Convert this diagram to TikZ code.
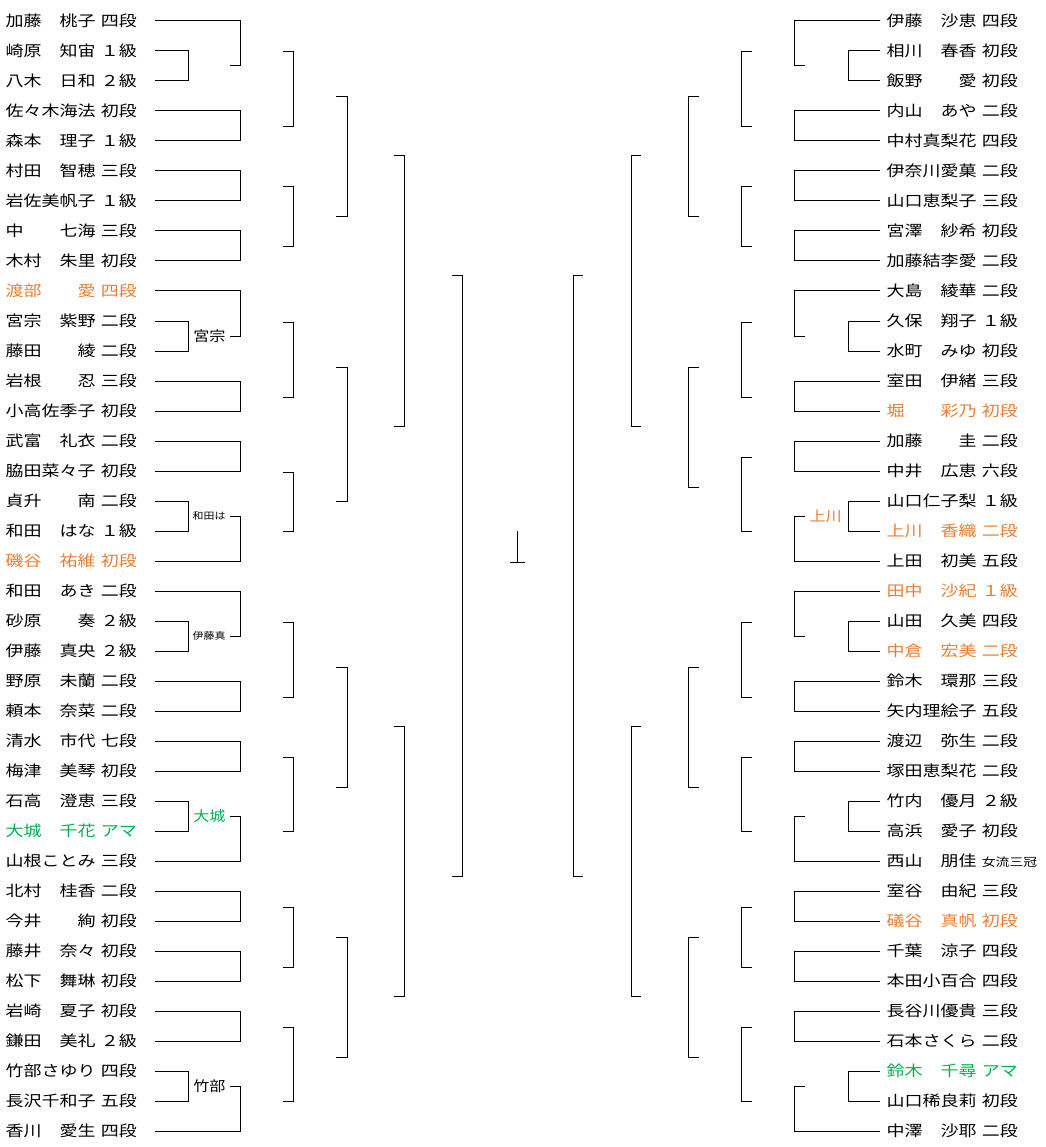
\documentclass[tikz,border=0pt]{standalone}
\usepackage{fontspec}
\usepackage{graphicx}
\usetikzlibrary{calc}
\newfontfamily\jp{Noto Sans CJK JP}
\definecolor{kachi}{RGB}{235,125,49}
\definecolor{ama}{RGB}{0,176,80}
\newcommand{\plname}[2]{\scalebox{1.2}[1]{#1\hspace{4.5pt}#2}}
\tikzset{
  plr/.style={anchor=west, inner sep=0pt, font=\jp\fontsize{15}{15}\selectfont},
  lbl/.style={inner sep=0pt, font=\jp\fontsize{14}{14}\selectfont},
  lbls/.style={inner sep=0pt, font=\jp\fontsize{9.5}{9.5}\selectfont},
}
\begin{document}
\begin{tikzpicture}[x=1pt, y=-1pt, line width=1pt]
    \useasboundingbox (0,0) rectangle (1045,1147);

    % 左ブロックの棋士
    \foreach \i/\n/\r/\c in {0/加藤　桃子/四段/black, 1/崎原　知宙/１級/black, 2/八木　日和/２級/black,
        3/佐々木海法/初段/black, 4/森本　理子/１級/black, 5/村田　智穂/三段/black, 6/岩佐美帆子/１級/black,
        7/中　　七海/三段/black, 8/木村　朱里/初段/black, 9/渡部　　愛/四段/kachi, 10/宮宗　紫野/二段/black,
        11/藤田　　綾/二段/black, 12/岩根　　忍/三段/black, 13/小高佐季子/初段/black, 14/武富　礼衣/二段/black,
        15/脇田菜々子/初段/black, 16/貞升　　南/二段/black, 17/和田　はな/１級/black, 18/磯谷　祐維/初段/kachi,
        19/和田　あき/二段/black, 20/砂原　　奏/２級/black, 21/伊藤　真央/２級/black, 22/野原　未蘭/二段/black,
        23/頼本　奈菜/二段/black, 24/清水　市代/七段/black, 25/梅津　美琴/初段/black, 26/石高　澄恵/三段/black,
        27/大城　千花/アマ/ama, 28/山根ことみ/三段/black, 29/北村　桂香/二段/black, 30/今井　　絢/初段/black,
        31/藤井　奈々/初段/black, 32/松下　舞琳/初段/black, 33/岩崎　夏子/初段/black, 34/鎌田　美礼/２級/black,
        35/竹部さゆり/四段/black, 36/長沢千和子/五段/black, 37/香川　愛生/四段/black}
        \node[plr, text=\c] (l\i) at (5,{21+30*\i}) {\plname{\n}{\r}};

    % 右ブロックの棋士
    \foreach \i/\n/\r/\c in {0/伊藤　沙恵/四段/black, 1/相川　春香/初段/black, 2/飯野　　愛/初段/black,
        3/内山　あや/二段/black, 4/中村真梨花/四段/black, 5/伊奈川愛菓/二段/black, 6/山口恵梨子/三段/black,
        7/宮澤　紗希/初段/black, 8/加藤結李愛/二段/black, 9/大島　綾華/二段/black, 10/久保　翔子/１級/black,
        11/水町　みゆ/初段/black, 12/室田　伊緒/三段/black, 13/堀　　彩乃/初段/kachi, 14/加藤　　圭/二段/black,
        15/中井　広恵/六段/black, 16/山口仁子梨/１級/black, 17/上川　香織/二段/kachi, 18/上田　初美/五段/black,
        19/田中　沙紀/１級/kachi, 20/山田　久美/四段/black, 21/中倉　宏美/二段/kachi, 22/鈴木　環那/三段/black,
        23/矢内理絵子/五段/black, 24/渡辺　弥生/二段/black, 25/塚田恵梨花/二段/black, 26/竹内　優月/２級/black,
        27/高浜　愛子/初段/black, 29/室谷　由紀/三段/black, 30/礒谷　真帆/初段/kachi,
        31/千葉　涼子/四段/black, 32/本田小百合/四段/black, 33/長谷川優貴/三段/black, 34/石本さくら/二段/black,
        35/鈴木　千尋/アマ/ama, 36/山口稀良莉/初段/black, 37/中澤　沙耶/二段/black}
        \node[plr, text=\c] (r\i) at (886,{21+30*\i}) {\plname{\n}{\r}};
    \node[plr] (r28) at (886,861) {\plname{西山　朋佳}{{\fontsize{11.5}{11.5}\selectfont 女流三冠}}};

    % 1回戦の線の位置
    \coordinate (l-txt) at (155,0);  \coordinate (r-txt) at (880,0);
    \coordinate (l-r1) at (240,0);   \coordinate (r-r1) at (794,0);
    \coordinate (l-pre) at (188,0);  \coordinate (r-pre) at (848,0);
    \coordinate (l-stub) at (230,0); \coordinate (r-stub) at (805,0);

    \foreach \s in {l,r} {
        % 予選の勝者の位置
        \foreach \b/\c in {1/2,10/11,16/17,20/21,26/27,35/36}
            \coordinate (\s-w\b) at ($(\s\b)!.5!(\s\c)$);
        % 1回戦
        \foreach \a/\b in {3/4,5/6,7/8,12/13,14/15,22/23,24/25,29/30,31/32,33/34}
            \draw (\s\a -| \s-txt) -| (\s-r1 |- \s\b) -- (\s\b -| \s-txt);
        % 予選
        \foreach \b/\c in {1/2,10/11,16/17,20/21,26/27,35/36}
            \draw (\s\b -| \s-txt) -| (\s-pre |- \s\c) -- (\s\c -| \s-txt);
        % 予選の勝者が下
        \foreach \a/\b in {0/1,9/10,19/20}
            \draw (\s\a -| \s-txt) -| (\s-r1 |- \s-w\b) -- (\s-stub |- \s-w\b);
        % 予選の勝者が上
        \foreach \a/\b in {18/16,28/26,37/35}
            \draw (\s-stub |- \s-w\b) -| (\s-r1 |- \s\a) -- (\s\a -| \s-txt);
    }

    % 予選の勝者
    \node[lbl, anchor=east, xshift=-4pt] (lw10) at (l-stub |- l-w10) {\scalebox{1.15}[1]{宮宗}};
    \node[lbls, anchor=east, xshift=-4pt] (lw16) at (l-stub |- l-w16) {\scalebox{1.15}[1]{和田は}};
    \node[lbls, anchor=east, xshift=-4pt] (lw20) at (l-stub |- l-w20) {\scalebox{1.15}[1]{伊藤真}};
    \node[lbl, anchor=east, xshift=-4pt, text=ama] (lw26) at (l-stub |- l-w26) {\scalebox{1.15}[1]{大城}};
    \node[lbl, anchor=east, xshift=-4pt] (lw35) at (l-stub |- l-w35) {\scalebox{1.15}[1]{竹部}};
    \node[lbl, anchor=west, xshift=4pt, text=kachi] (rw16) at (r-stub |- r-w16) {\scalebox{1.15}[1]{上川}};

    % 2回戦
    \foreach \a/\b in {52/127,187/247,322/397,472/531,622/697,757/831,907/967,1027/1101}
        \draw (283,\a) -- (293,\a) -- (293,\b) -- (283,\b);
    \foreach \a/\b in {52/127,187/247,322/397,457/531,622/697,757/831,907/967,1027/1101}
        \draw (752,\a) -- (741,\a) -- (741,\b) -- (752,\b);

    % 3回戦
    \foreach \a/\b in {97/217,367/501,667/787,937/1057}
        \draw (336,\a) -- (347,\a) -- (347,\b) -- (336,\b);
    \foreach \a/\b in {97/217,367/487,667/787,937/1057}
        \draw (699,\a) -- (688,\a) -- (688,\b) -- (699,\b);

    % 準々決勝
    \foreach \a/\b in {156/426,726/996} {
        \draw (394,\a) -- (404,\a) -- (404,\b) -- (394,\b);
        \draw (641,\a) -- (631,\a) -- (631,\b) -- (641,\b);
    }

    % 準決勝
    \draw (452,276) -- (462,276) -- (462,876) -- (452,876);
    \draw (583,276) -- (573,276) -- (573,876) -- (583,876);

    % 決勝
    \draw (517,531) -- (517,562);
    \draw (510,562) -- (525,562);
\end{tikzpicture}
\end{document}
